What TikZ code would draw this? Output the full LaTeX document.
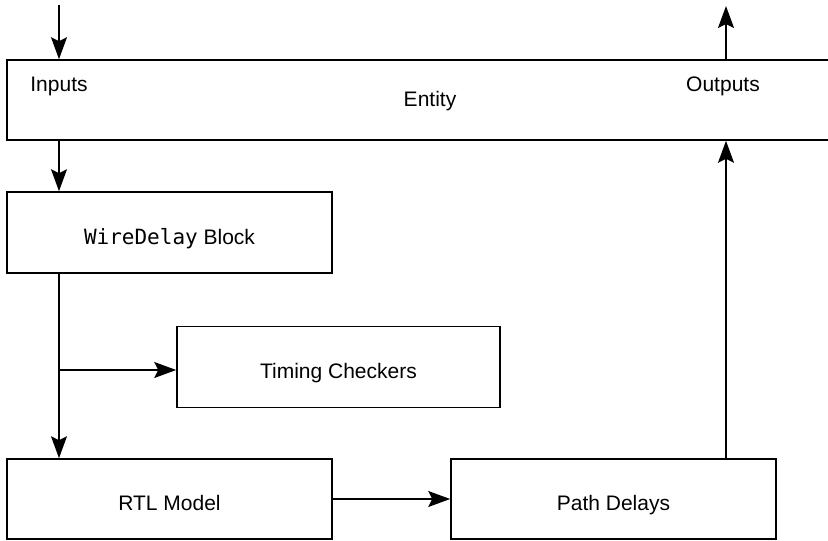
\documentclass[tikz,border=0pt]{standalone}
\usepackage{fontspec}
\setmainfont{Liberation Sans}
\newfontfamily\codefont{DejaVu Sans Mono}
\usepackage{tikz}
\usetikzlibrary{arrows.meta}
\newcommand{\boxw}{325pt}
\newcommand{\boxh}{81pt}
\tikzset{
  blk/.style={draw, line width=1.6pt, minimum width=\boxw, minimum height=\boxh, inner sep=0pt,
    text height=23pt, text depth=0pt},
  flow/.style={line width=1.6pt, -{Stealth[length=22pt,width=16pt,inset=4pt]}},
  lbl/.style={inner sep=0pt}
}

\begin{document}
\begin{tikzpicture}[x=1pt, y=-1pt, font=\fontsize{21}{25}\selectfont]
        \clip (0,0) rectangle (828,541);
        \useasboundingbox (0,0) rectangle (828,541);

% blocks
\node[blk, minimum width=843pt, minimum height=80pt, text height=0pt] (entity) at (428.5,100) {};
\node[lbl] (entitytxt) at (430,101) {Entity};
\node[lbl] (inputs) at (59,86) {Inputs};
\node[lbl] (outputs) at (723,86) {Outputs};
\node[blk] (wire) at (169.5,232.5) {{\codefont WireDelay} Block};
\node[blk, minimum width=323pt] (timing) at (338.5,367) {Timing Checkers};
\node[blk, minimum height=80pt] (rtl) at (169.5,499) {RTL Model};
\node[blk, minimum height=80pt] (path) at (613.5,499) {Path Delays};

% free ends
\coordinate (in) at (59,5);
\coordinate (out) at (726,6);
\coordinate (tap) at (59,370);

% connectors
\draw[flow] (in) -- (in |- entity.north);
\draw[flow] (out |- entity.north) -- (out);
\draw[flow] (in |- entity.south) -- (in |- wire.north);
\draw[flow] (in |- wire.south) -- (in |- rtl.north);
\draw[flow] (tap) -- (tap -| timing.west);
\draw[flow] (rtl.east) -- (path.west);
\draw[flow] (out |- path.north) -- (out |- entity.south);

    \end{tikzpicture}
\end{document}
